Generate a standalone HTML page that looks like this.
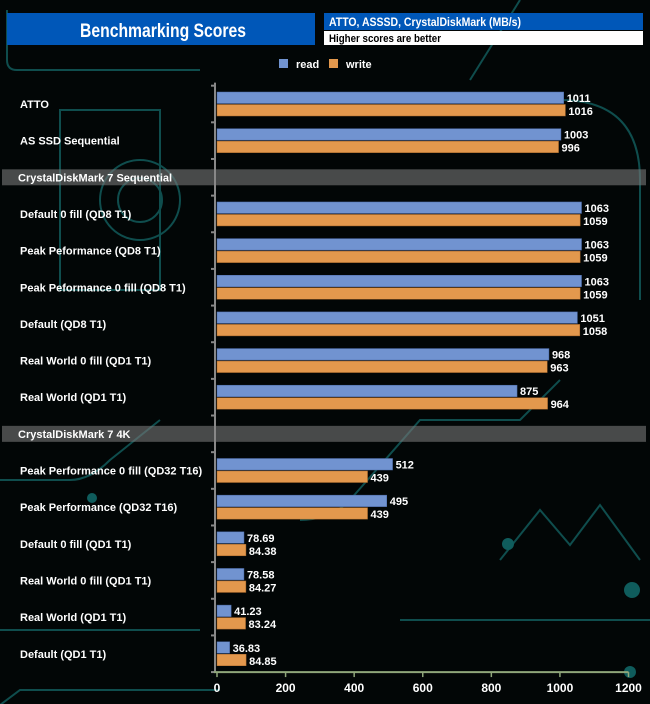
<!DOCTYPE html>
<html><head><meta charset="utf-8"><style>
body{margin:0;background:#000;}
svg{display:block;font-family:"Liberation Sans",Arial,sans-serif;}
</style></head><body>
<svg id="c" width="650" height="704" xmlns="http://www.w3.org/2000/svg">
<rect width="650" height="704" fill="#020606"/>
<g stroke="#0f4d4d" stroke-width="2" fill="none">
<path d="M7 10 V60 Q7 70 17 70 H200"/>
<path d="M60 110 h100 v180 h-100 z"/>
<circle cx="140" cy="200" r="40"/><circle cx="140" cy="200" r="22"/>
<path d="M0 480 H70 Q90 480 110 460 L160 420"/>
<path d="M0 630 H200"/>
<path d="M0 705 L20 690 H220"/>
<path d="M300 520 Q330 520 350 500 L420 420 H520 L560 380"/>
<path d="M500 560 L540 510 L570 545 L600 505 L640 560"/>
<path d="M400 620 H650"/>
<path d="M520 0 L470 80"/>
<path d="M560 100 Q640 100 640 180 V300"/>
</g>
<g fill="#0f5c5c"><circle cx="508" cy="544" r="6"/><circle cx="632" cy="590" r="8"/><circle cx="630" cy="672" r="6"/><circle cx="92" cy="498" r="5"/></g>
<rect x="7" y="13" width="308" height="32" fill="#0057b8"/>
<text x="80" y="37" textLength="166" lengthAdjust="spacingAndGlyphs" fill="#fff" font-size="19" font-weight="bold">Benchmarking Scores</text>
<rect x="324" y="13" width="319" height="17" fill="#0057b8"/>
<text x="329" y="26" textLength="192" lengthAdjust="spacingAndGlyphs" fill="#fff" font-size="12" font-weight="bold">ATTO, ASSSD, CrystalDiskMark (MB/s)</text>
<rect x="324" y="31" width="319" height="14" fill="#fff"/>
<text x="329" y="42" textLength="112" lengthAdjust="spacingAndGlyphs" fill="#000" font-size="11" font-weight="bold">Higher scores are better</text>
<g>
<rect x="279" y="59" width="9" height="9" fill="#7193d0"/>
<text x="296" y="68" fill="#fff" font-size="11" font-weight="bold">read</text>
<rect x="329" y="59" width="9" height="9" fill="#e3984d"/>
<text x="346" y="68" fill="#fff" font-size="11" font-weight="bold">write</text>
</g>
<g id="plot"></g>
</svg>
<script>
const categories=["ATTO","AS SSD Sequential","CrystalDiskMark 7 Sequential","Default 0 fill (QD8 T1)","Peak Peformance (QD8 T1)","Peak Peformance 0 fill (QD8 T1)","Default (QD8 T1)","Real World 0 fill (QD1 T1)","Real World (QD1 T1)","CrystalDiskMark 7 4K","Peak Performance 0 fill (QD32 T16)","Peak Performance (QD32 T16)","Default 0 fill (QD1 T1)","Real World 0 fill  (QD1 T1)","Real World  (QD1 T1)","Default (QD1 T1)"];
const isHeader=[false,false,true,false,false,false,false,false,false,true,false,false,false,false,false,false];
const readValues=[1011,1003,null,1063,1063,1063,1051,968,875,null,512,495,78.69,78.58,41.23,36.83];
const writeValues=[1016,996,null,1059,1059,1059,1058,963,964,null,439,439,84.38,84.27,83.24,84.85];
const readLabels=["1011","1003","","1063","1063","1063","1051","968","875","","512","495","78.69","78.58","41.23","36.83"];
const writeLabels=["1016","996","","1059","1059","1059","1058","963","964","","439","439","84.38","84.27","83.24","84.85"];
const xTicks=[0,200,400,600,800,1000,1200];
const NS="http://www.w3.org/2000/svg";
const g=document.getElementById('plot');
const X0=217,X1=628.5,MAX=1200,Y0=104,STEP=36.65,BH=11.5;
const x=v=>X0+(v/MAX)*(X1-X0);
const yc=i=>Y0+STEP*i;
function mk(t,a){const e=document.createElementNS(NS,t);for(const k in a)e.setAttribute(k,a[k]);g.appendChild(e);return e;}
categories.forEach((c,i)=>{
  const cy=yc(i);
  if(isHeader[i]){
    const r=mk('rect',{x:2,y:cy-8,width:644,height:16,fill:'rgba(120,120,120,0.6)'});
    
    
    const t=mk('text',{x:18,y:cy+4,fill:'#fff','font-size':11,'font-weight':'bold'});
    t.textContent=c;
    
    
    return;
  }
  const t=mk('text',{x:20,y:cy+4,fill:'#fff','font-size':11,'font-weight':'bold'});
  t.textContent=c;
  
  
  const rb=mk('rect',{x:X0,y:cy-BH-0.5,width:x(readValues[i])-X0,height:BH,fill:'#7193d0',stroke:'#4a6aa8','stroke-width':0.5});
  
  
  const wb=mk('rect',{x:X0,y:cy+0.5,width:x(writeValues[i])-X0,height:BH,fill:'#e3984d',stroke:'#a8682a','stroke-width':0.5});
  
  
  const rl=mk('text',{x:x(readValues[i])+3,y:cy-2,fill:'#fff','font-size':11,'font-weight':'bold'});
  rl.textContent=readLabels[i];
  
  
  const wl=mk('text',{x:x(writeValues[i])+3,y:cy+11,fill:'#fff','font-size':11,'font-weight':'bold'});
  wl.textContent=writeLabels[i];
  
  
});
const yb=Y0+STEP*15.5;
const ya=mk('line',{x1:X0-2,y1:Y0-STEP/2-3,x2:X0-2,y2:yb,stroke:'#888','stroke-width':2});


for(let k=0;k<=16;k++){const tk=mk('line',{x1:X0-6,x2:X0-2,y1:Y0-STEP/2+STEP*k,y2:Y0-STEP/2+STEP*k,stroke:'#888','stroke-width':2});

}
const xa=mk('line',{x1:X0-3,y1:yb,x2:X1,y2:yb,stroke:'#8fa67a','stroke-width':2});


xTicks.forEach(v=>{
  const tk=mk('line',{x1:x(v),x2:x(v),y1:yb,y2:yb+5,stroke:'#8fa67a','stroke-width':1.5});
  
  
  const tl=mk('text',{x:x(v),y:yb+20,fill:'#fff','font-size':12,'font-weight':'bold','text-anchor':'middle'});
  tl.textContent=v;
  
  
});
</script>
</body></html>
